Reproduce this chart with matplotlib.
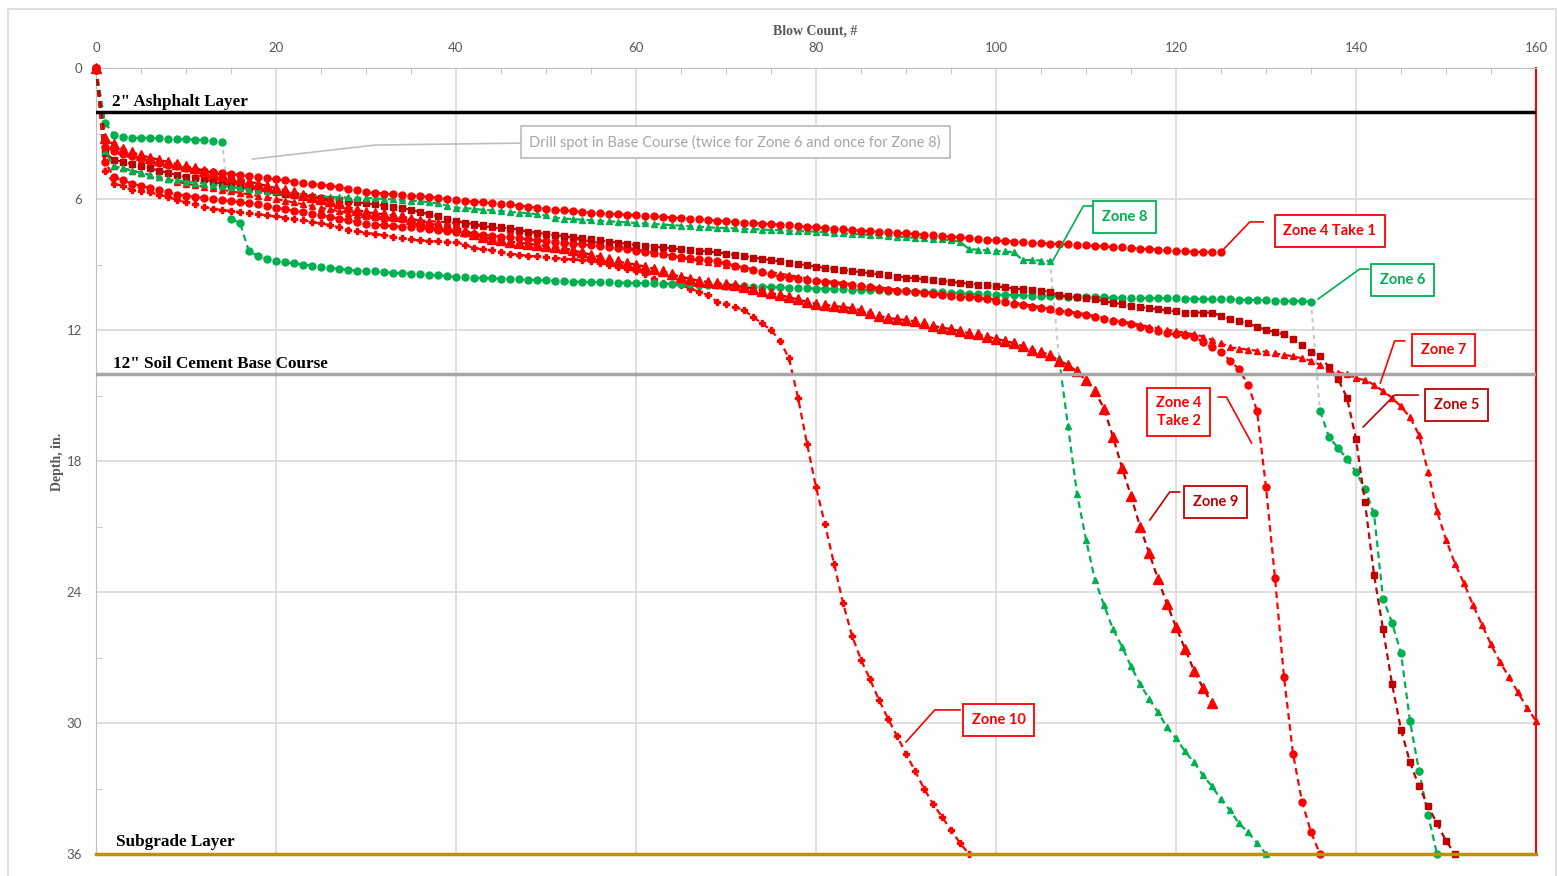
import numpy as np
import matplotlib.pyplot as plt
from matplotlib.patches import Rectangle

RED = "#FF0000"
DRED = "#C00000"
GREEN = "#00B050"
GRID = "#D9D9D9"
TXT = "#595959"

# depth (in.) read after each blow; list index = blow count from the start blow
zone4_take1 = [0, 3.6, 3.8, 3.95, 4.05, 4.15, 4.25, 4.35, 4.45, 4.5,
               4.6, 4.65, 4.7, 4.75, 4.8, 4.85, 4.9, 4.95, 5.0, 5.05,
               5.1, 5.15, 5.2, 5.25, 5.3, 5.35, 5.4, 5.45, 5.55, 5.6,
               5.7, 5.72, 5.75, 5.78, 5.8, 5.85, 5.88, 5.9, 5.95, 6.0,
               6.05, 6.1, 6.12, 6.15, 6.2, 6.22, 6.25, 6.3, 6.35, 6.4,
               6.45, 6.5, 6.52, 6.55, 6.6, 6.62, 6.65, 6.68, 6.7, 6.72,
               6.75, 6.77, 6.8, 6.82, 6.85, 6.87, 6.9, 6.93, 6.96, 7.0,
               7.02, 7.05, 7.08, 7.1, 7.13, 7.15, 7.18, 7.2, 7.23, 7.27,
               7.3, 7.33, 7.36, 7.39, 7.42, 7.45, 7.48, 7.5, 7.52, 7.55,
               7.58, 7.6, 7.63, 7.66, 7.7, 7.73, 7.76, 7.8, 7.83, 7.87,
               7.9, 7.93, 7.95, 7.97, 8.0, 8.02, 8.04, 8.06, 8.08, 8.1,
               8.12, 8.15, 8.17, 8.2, 8.22, 8.25, 8.27, 8.3, 8.32, 8.35,
               8.37, 8.4, 8.42, 8.43, 8.44, 8.45]

zone8_top = [0, 3.8, 4.5, 4.6, 4.7, 4.8, 4.9, 5.0, 5.1, 5.15,
             5.2, 5.25, 5.3, 5.35, 5.4, 5.45, 5.5, 5.55, 5.6, 5.62,
             5.65, 5.7, 5.75, 5.8, 5.85, 5.9, 5.9, 5.92, 5.93, 5.94,
             5.95, 5.97, 6.0, 6.02, 6.05, 6.08, 6.1, 6.15, 6.2, 6.3,
             6.4, 6.42, 6.45, 6.5, 6.52, 6.55, 6.6, 6.62, 6.65, 6.7,
             6.75, 6.85, 6.9, 6.92, 6.95, 6.97, 7.0, 7.02, 7.05, 7.07,
             7.1, 7.12, 7.15, 7.17, 7.2, 7.22, 7.25, 7.27, 7.3, 7.32,
             7.33, 7.35, 7.37, 7.38, 7.4, 7.42, 7.43, 7.45, 7.47, 7.48,
             7.5, 7.52, 7.55, 7.57, 7.6, 7.62, 7.65, 7.67, 7.7, 7.72,
             7.75, 7.77, 7.8, 7.82, 7.85, 7.9, 7.95, 8.3, 8.32, 8.35,
             8.38, 8.4, 8.45, 8.8, 8.8, 8.82, 8.84]
zone8_bottom_start = 107
zone8_bottom = [13.3, 16.4, 19.5, 21.6, 23.45, 24.6, 25.7, 26.5, 27.4, 28.2,
                28.9, 29.5, 30.2, 30.7, 31.3, 31.8, 32.4, 32.9, 33.5, 34.0,
                34.6, 35.0, 35.5, 36.0]

zone6_top = [0, 2.5, 3.07, 3.15, 3.2, 3.2, 3.2, 3.22, 3.23, 3.25,
             3.27, 3.28, 3.3, 3.33, 3.38]
zone6_mid_start = 15
zone6_mid = [6.9, 7.1, 8.4, 8.6, 8.75, 8.85,
             8.9, 8.95, 9.0, 9.05, 9.1, 9.15, 9.2, 9.25, 9.28, 9.3,
             9.32, 9.35, 9.38, 9.4, 9.42, 9.45, 9.48, 9.5, 9.53, 9.57,
             9.58, 9.6, 9.62, 9.63, 9.65, 9.67, 9.68, 9.7, 9.72, 9.73,
             9.75, 9.77, 9.78, 9.8, 9.8, 9.81, 9.82, 9.83, 9.84, 9.85,
             9.86, 9.87, 9.88, 9.89, 9.9, 9.91, 9.92, 9.94, 9.95, 9.97,
             9.98, 10.0, 10.01, 10.02, 10.04, 10.05, 10.06, 10.07, 10.08, 10.1,
             10.11, 10.12, 10.13, 10.15, 10.16, 10.17, 10.18, 10.2, 10.21, 10.22,
             10.24, 10.25, 10.27, 10.28, 10.3, 10.32, 10.35, 10.36, 10.37, 10.38,
             10.39, 10.4, 10.41, 10.42, 10.43, 10.44, 10.45, 10.47, 10.5, 10.5,
             10.5, 10.51, 10.52, 10.52, 10.53, 10.53, 10.54, 10.54, 10.55, 10.55,
             10.56, 10.57, 10.58, 10.59, 10.6, 10.6, 10.61, 10.62, 10.63, 10.64,
             10.65, 10.66, 10.67, 10.68, 10.7]
zone6_bottom_start = 136
zone6_bottom = [15.7, 16.9, 17.4, 17.9, 18.5, 19.3, 20.4, 24.3, 25.4, 26.8,
                29.9, 32.2, 34.2, 36.0]

zone5 = [0, 3.9, 4.2, 4.3, 4.4, 4.5, 4.6, 4.7, 4.8, 4.9,
         5.0, 5.05, 5.1, 5.2, 5.3, 5.35, 5.4, 5.5, 5.55, 5.6,
         5.7, 5.75, 5.8, 5.85, 5.9, 5.95, 6.0, 6.05, 6.1, 6.15,
         6.2, 6.25, 6.3, 6.35, 6.4, 6.5, 6.6, 6.7, 6.8, 6.9,
         7.0, 7.1, 7.15, 7.2, 7.25, 7.3, 7.35, 7.4, 7.5, 7.55,
         7.6, 7.65, 7.7, 7.75, 7.8, 7.85, 7.9, 7.95, 8.0, 8.06,
         8.1, 8.14, 8.18, 8.22, 8.26, 8.3, 8.34, 8.37, 8.4, 8.45,
         8.5, 8.56, 8.62, 8.68, 8.74, 8.8, 8.86, 8.92, 8.98, 9.04,
         9.1, 9.15, 9.2, 9.25, 9.3, 9.35, 9.4, 9.45, 9.5, 9.55,
         9.6, 9.63, 9.67, 9.7, 9.75, 9.8, 9.84, 9.88, 9.92, 9.96,
         10.0, 10.05, 10.1, 10.13, 10.17, 10.2, 10.25, 10.4, 10.45, 10.5,
         10.55, 10.6, 10.68, 10.75, 10.82, 10.9, 10.95, 11.0, 11.05, 11.1,
         11.15, 11.2, 11.2, 11.2, 11.2, 11.35, 11.5, 11.6, 11.7, 11.85,
         12.0, 12.1, 12.2, 12.4, 12.7, 13.0, 13.2, 13.7, 14.25, 15.1,
         17.0, 19.9, 23.2, 25.7, 28.2, 30.3, 31.8, 32.9, 33.8, 34.6,
         35.4, 36.0]

zone7 = [0, 3.8, 4.5, 4.6, 4.7, 4.8, 4.9, 5.0, 5.1, 5.2,
         5.3, 5.37, 5.44, 5.51, 5.58, 5.65, 5.72, 5.79, 5.86, 5.93,
         6.0, 6.08, 6.16, 6.24, 6.32, 6.4, 6.48, 6.56, 6.64, 6.72,
         6.8, 6.83, 6.86, 6.89, 6.92, 6.95, 6.98, 7.01, 7.04, 7.07,
         7.1, 7.15, 7.2, 7.25, 7.3, 7.35, 7.4, 7.45, 7.5, 7.55,
         7.6, 7.67, 7.74, 7.81, 7.88, 7.95, 8.02, 8.09, 8.16, 8.23,
         8.3, 8.38, 8.46, 8.54, 8.62, 8.7, 8.76, 8.82, 8.88, 8.94,
         9.0, 9.07, 9.14, 9.21, 9.28, 9.35, 9.42, 9.49, 9.56, 9.63,
         9.7, 9.75, 9.8, 9.85, 9.9, 9.95, 10.0, 10.05, 10.1, 10.15,
         10.15, 10.2, 10.25, 10.3, 10.35, 10.4, 10.43, 10.45, 10.5, 10.55,
         10.6, 10.67, 10.74, 10.81, 10.88, 10.95, 11.02, 11.09, 11.15, 11.2,
         11.28, 11.36, 11.44, 11.52, 11.6, 11.68, 11.76, 11.85, 11.92, 11.99,
         12.06, 12.13, 12.2, 12.3, 12.45, 12.6, 12.8, 12.85, 12.9, 12.95,
         13.0, 13.07, 13.14, 13.2, 13.3, 13.4, 13.6, 13.8, 13.95, 14.0,
         14.2, 14.3, 14.5, 14.8, 15.1, 15.5, 16.0, 16.8, 18.5, 20.3,
         21.6, 22.7, 23.6, 24.6, 25.5, 26.4, 27.2, 27.9, 28.6, 29.3,
         29.9]

zone4_take2 = [0, 4.3, 5.0, 5.15, 5.3, 5.4, 5.5, 5.6, 5.7, 5.8,
               5.85, 5.9, 5.95, 6.0, 6.05, 6.1, 6.15, 6.2, 6.25, 6.3,
               6.4, 6.47, 6.54, 6.61, 6.68, 6.75, 6.82, 6.9, 6.98, 7.05,
               7.15, 7.18, 7.21, 7.24, 7.27, 7.3, 7.33, 7.37, 7.41, 7.45,
               7.5, 7.55, 7.6, 7.64, 7.68, 7.72, 7.76, 7.8, 7.85, 7.9,
               7.93, 7.97, 8.0, 8.04, 8.08, 8.12, 8.16, 8.2, 8.25, 8.3,
               8.36, 8.42, 8.48, 8.54, 8.6, 8.66, 8.72, 8.77, 8.8, 8.85,
               8.95, 9.05, 9.15, 9.25, 9.35, 9.45, 9.55, 9.6, 9.65, 9.7,
               9.75, 9.8, 9.85, 9.9, 9.95, 10.0, 10.05, 10.1, 10.15, 10.2,
               10.22, 10.25, 10.3, 10.35, 10.4, 10.45, 10.48, 10.5, 10.55, 10.6,
               10.65, 10.72, 10.79, 10.86, 10.93, 11.0, 11.06, 11.12, 11.18, 11.25,
               11.33, 11.41, 11.49, 11.57, 11.65, 11.73, 11.85, 11.95, 12.05, 12.15,
               12.2, 12.25, 12.3, 12.55, 12.8, 13.0, 13.4, 13.8, 14.5, 15.7,
               19.2, 23.35, 27.9, 31.4, 33.6, 35.0, 36.0]

zone9 = [0, 3.2, 3.5, 3.7, 3.85, 4.0, 4.1, 4.2, 4.3, 4.4,
         4.5, 4.6, 4.7, 4.8, 4.9, 5.0, 5.1, 5.2, 5.3, 5.4,
         5.5, 5.6, 5.7, 5.8, 5.9, 6.0, 6.1, 6.2, 6.35, 6.5,
         6.6, 6.65, 6.7, 6.75, 6.8, 6.9, 7.0, 7.1, 7.2, 7.25,
         7.3, 7.45, 7.6, 7.75, 7.85, 7.9, 7.95, 8.0, 8.05, 8.1,
         8.15, 8.2, 8.25, 8.35, 8.45, 8.55, 8.65, 8.75, 8.85, 8.95,
         9.0, 9.1, 9.2, 9.3, 9.45, 9.57, 9.65, 9.75, 9.8, 9.85,
         9.9, 9.95, 10.05, 10.1, 10.2, 10.3, 10.4, 10.5, 10.6, 10.7,
         10.8, 10.85, 10.9, 10.95, 11.0, 11.1, 11.2, 11.35, 11.45, 11.5,
         11.55, 11.6, 11.7, 11.8, 11.9, 11.95, 12.05, 12.15, 12.2, 12.3,
         12.4, 12.5, 12.6, 12.75, 12.9, 13.0, 13.15, 13.4, 13.6, 13.9,
         14.3, 14.8, 15.6, 16.9, 18.3, 19.6, 21.0, 22.2, 23.4, 24.55,
         25.6, 26.6, 27.6, 28.4, 29.1]

zone10 = [0, 4.7, 5.3, 5.4, 5.6, 5.65, 5.7, 5.8, 5.9, 6.05,
          6.15, 6.25, 6.35, 6.45, 6.5, 6.55, 6.6, 6.65, 6.7, 6.75,
          6.8, 6.85, 6.9, 6.97, 7.05, 7.12, 7.2, 7.3, 7.4, 7.47,
          7.55, 7.6, 7.66, 7.72, 7.8, 7.85, 7.9, 7.92, 7.94, 7.96,
          7.97, 8.1, 8.25, 8.3, 8.35, 8.42, 8.5, 8.55, 8.6, 8.63,
          8.66, 8.7, 8.73, 8.77, 8.8, 8.85, 8.92, 9.0, 9.1, 9.2,
          9.3, 9.45, 9.65, 9.85, 9.9, 9.94, 10.1, 10.25, 10.4, 10.7,
          10.8, 10.95, 11.1, 11.4, 11.7, 12.0, 12.5, 13.3, 15.1, 17.2,
          19.2, 20.9, 22.7, 24.5, 26.0, 27.1, 28.0, 28.95, 29.8, 30.6,
          31.4, 32.2, 33.0, 33.7, 34.3, 34.9, 35.5, 36.0]

x_ticks = [0, 20, 40, 60, 80, 100, 120, 140, 160]
y_ticks = [0, 6, 12, 18, 24, 30, 36]

fig = plt.figure(figsize=(15.58, 8.76), dpi=100)
fig.patches.append(Rectangle((8 / 1558, -0.01), 1548 / 1558, 1.0, transform=fig.transFigure,
                             fill=False, ec=GRID, lw=1.2))
ax = fig.add_axes([96 / 1558, 1 - 854 / 876, 1440 / 1558, 786 / 876])


def curve(start, depths, color, marker, ms, lc=None, z=3):
    blows = np.arange(start, start + len(depths))
    ax.plot(blows, depths, color=lc or color, ls=(0, (3, 2)), lw=1.6, marker=marker, ms=ms,
            mfc=color, mec=color, zorder=z, clip_on=False)


def drill(p, q):
    ax.plot([p[0], q[0]], [p[1], q[1]], color="#C8C8C8", ls=(0, (2, 2)), lw=1.5, zorder=2.5)


# drill spots (gray connectors)
drill((14, zone6_top[-1]), (15, zone6_mid[0]))
drill((135, zone6_mid[-1]), (136, zone6_bottom[0]))
drill((106, zone8_top[-1]), (107, zone8_bottom[0]))

curve(0, zone10, RED, "P", 4.8, z=3)
curve(0, zone6_top, GREEN, "o", 5, z=3.1)
curve(zone6_mid_start, zone6_mid, GREEN, "o", 5, z=3.1)
curve(zone6_bottom_start, zone6_bottom, GREEN, "o", 5, z=3.1)
curve(0, zone4_take2, RED, "o", 5, z=3.2)
curve(0, zone7, RED, "^", 5, z=3.3)
curve(0, zone5, DRED, "s", 5, z=3.4)
curve(0, zone8_top, GREEN, "^", 5, z=3.5)
curve(zone8_bottom_start, zone8_bottom, GREEN, "^", 5, z=3.5)
curve(0, zone4_take1, RED, "o", 5, z=3.6)
curve(0, zone9, RED, "^", 7.5, lc=DRED, z=3.7)

# layer boundaries
ax.axhline(2, color="black", lw=2.5, zorder=4)
ax.axhline(14, color="#A6A6A6", lw=2.5, zorder=4)
ax.axhline(36, color="#BF9000", lw=2.5, zorder=4, clip_on=False)
ax.text(1.8, 1.72, "2\" Ashphalt Layer", family="Liberation Serif", weight="bold", fontsize=12.3, zorder=5)
ax.text(1.9, 13.72, "12\" Soil Cement Base Course", family="Liberation Serif", weight="bold", fontsize=12.3, zorder=5)
ax.text(2.2, 35.62, "Subgrade Layer", family="Liberation Serif", weight="bold", fontsize=12.3, zorder=5)


def label(x, y, text, color, leader, edge=None, weight="bold"):
    ax.text(x, y, text, color=color, fontsize=10.5, family="Lato", weight=weight, ha="center",
            va="center", multialignment="center", linespacing=1.3, zorder=6,
            bbox=dict(boxstyle="square,pad=0.6", fc="white", ec=edge or color, lw=1.3))
    ax.plot([p[0] for p in leader], [p[1] for p in leader], color=edge or color, lw=1.2, zorder=6)


label(71.0, 3.39, "Drill spot in Base Course (twice for Zone 6 and once for Zone 8)", "#A6A6A6",
      [(47.1, 3.44), (31.0, 3.53), (17.4, 4.17)], edge="#BFBFBF", weight="normal")
label(114.3, 6.82, "Zone 8", GREEN, [(110.6, 6.32), (109.7, 6.32), (106.3, 8.84)])
label(137.1, 7.47, "Zone 4 Take 1", RED, [(129.7, 7.05), (128.2, 7.05), (124.9, 8.47)])
label(145.2, 9.71, "Zone 6", GREEN, [(141.4, 9.21), (140.4, 9.21), (135.8, 10.58)])
label(149.7, 12.92, "Zone 7", RED, [(145.4, 12.5), (144.3, 12.5), (142.7, 14.43)])
label(151.2, 15.44, "Zone 5", DRED, [(146.9, 14.98), (144.3, 14.98), (140.8, 16.44)])
label(120.3, 15.76, "Zone 4\nTake 2", RED, [(124.7, 15.07), (125.6, 15.07), (128.4, 17.18)])
label(124.4, 19.88, "Zone 9", DRED, [(120.4, 19.42), (119.3, 19.42), (117.1, 20.7)])
label(100.3, 29.86, "Zone 10", RED, [(96.0, 29.4), (93.2, 29.4), (90.0, 30.87)])

# axes
ax.set_xlim(0, 160)
ax.set_ylim(36, 0)
ax.xaxis.tick_top()
ax.set_xticks(x_ticks)
ax.set_yticks(y_ticks)
ax.set_xticks(np.arange(0, 161, 5), minor=True)
ax.set_yticks(np.arange(0, 37, 3), minor=True)
ax.tick_params(which="both", direction="in", color="#BFBFBF", labelcolor=TXT, labelsize=9.5)
ax.tick_params(which="major", length=0, pad=10)
ax.tick_params(which="minor", length=4)
for lab in ax.get_xticklabels() + ax.get_yticklabels():
    lab.set_family("Lato")
ax.grid(which="major", color=GRID, lw=1.2, zorder=0)
ax.set_axisbelow(True)
ax.spines["top"].set_color("#BFBFBF")
ax.spines["left"].set_color("#BFBFBF")
ax.spines["bottom"].set_visible(False)
ax.spines["right"].set_color(RED)
ax.spines["right"].set_linewidth(1.5)

fig.text(815 / 1558, 1 - 31 / 876, "Blow Count, #", family="Liberation Serif", weight="bold",
         fontsize=10, color=TXT, ha="center", va="center")
fig.text(57 / 1558, 1 - 462 / 876, "Depth, in.", family="Liberation Serif", weight="bold",
         fontsize=10, color=TXT, ha="center", va="center", rotation=90)

fig.savefig("out.png", dpi=100)
